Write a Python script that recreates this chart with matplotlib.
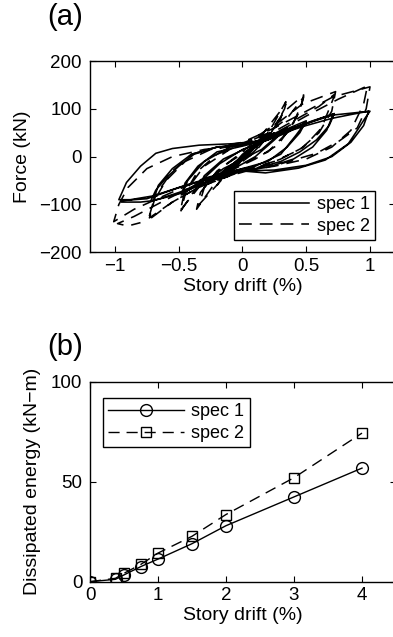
import matplotlib
matplotlib.use("Agg")
import matplotlib.pyplot as plt

plt.rcParams['font.family'] = ['Liberation Sans', 'DejaVu Sans']
plt.rcParams['font.size'] = 13.5

# ---------------- (a) hysteresis data (hand-read loops) ----------------
spec1_x = [0.0, 0.1, 0.05, -0.05, -0.1, -0.05, 0.05, 0.1,
           0.15, 0.08, -0.05, -0.15, -0.1, 0.0, 0.15,
           0.2, 0.12, 0.0, -0.12, -0.2, -0.15, -0.05, 0.08, 0.2,
           0.25, 0.18, 0.05, -0.1, -0.25, -0.2, -0.1, 0.05, 0.25,
           0.35, 0.28, 0.15, 0.0, -0.15, -0.35, -0.3, -0.18, 0.0, 0.15, 0.35,
           0.34, 0.25, 0.1, -0.1, -0.34, -0.3, -0.15, 0.05, 0.2, 0.34,
           0.5, 0.45, 0.35, 0.2, 0.0, -0.2, -0.35, -0.48, -0.45, -0.35, -0.2, 0.0, 0.2, 0.35, 0.5,
           0.49, 0.42, 0.3, 0.1, -0.1, -0.3, -0.47, -0.43, -0.3, -0.1, 0.1, 0.3, 0.49,
           0.72, 0.68, 0.58, 0.45, 0.3, 0.1, -0.1, -0.3, -0.5, -0.65, -0.72,
           -0.68, -0.6, -0.5, -0.38, -0.2, 0.0, 0.15, 0.35, 0.55, 0.72,
           0.71, 0.66, 0.55, 0.4, 0.2, 0.0, -0.25, -0.5, -0.7,
           -0.66, -0.55, -0.4, -0.2, 0.0, 0.2, 0.45, 0.71,
           1.0, 0.96, 0.9, 0.83, 0.65, 0.44, 0.18, 0.0, -0.2, -0.45, -0.7, -0.88, -0.97,
           -0.91, -0.8, -0.68, -0.55, -0.34, -0.08, 0.1, 0.3, 0.5, 0.7, 0.85, 0.99,
           0.95, 0.85, 0.7, 0.5, 0.25, 0.0, -0.25, -0.5, -0.75, -0.95,
           -0.95, -0.8, -0.7]
spec1_y = [0, 25, 10, -10, -30, -15, 5, 22,
           35, 20, -15, -40, -25, 5, 33,
           42, 25, 0, -30, -48, -35, -20, 15, 40,
           50, 35, 10, -20, -55, -40, -20, 10, 48,
           62, 45, 15, -5, -25, -65, -45, -15, 15, 30, 60,
           58, 35, 0, -30, -62, -40, -5, 20, 35, 57,
           75, 50, 20, -10, -25, -38, -55, -80, -55, -20, 10, 22, 35, 50, 72,
           70, 45, 5, -20, -32, -50, -78, -50, -10, 20, 30, 48, 68,
           90, 65, 35, 10, -10, -25, -35, -55, -75, -88, -93,
           -70, -45, -20, 5, 20, 25, 35, 55, 75, 90,
           88, 55, 20, -5, -22, -30, -50, -78, -92,
           -60, -25, 5, 20, 25, 38, 65, 87,
           95, 80, 55, 27, -7, -24, -34, -30, -40, -60, -82, -90, -90,
           -54, -20, 7, 17, 24, 27, 32, 48, 65, 80, 88, 95,
           65, 30, 0, -18, -28, -30, -45, -65, -88, -92,
           -95, -95, -92]

spec2_x = [0.0, 0.1, 0.05, -0.05, -0.1, -0.05, 0.05, 0.1,
           0.2, 0.12, 0.0, -0.12, -0.2, -0.15, -0.02, 0.1, 0.2,
           0.34, 0.3, 0.2, 0.05, -0.15, -0.36, -0.33, -0.2, 0.0, 0.15, 0.34,
           0.33, 0.25, 0.1, -0.1, -0.34, -0.3, -0.15, 0.05, 0.2, 0.33,
           0.48, 0.45, 0.35, 0.2, 0.0, -0.2, -0.35, -0.49, -0.46, -0.35, -0.2, 0.0, 0.2, 0.35, 0.48,
           0.47, 0.4, 0.28, 0.1, -0.1, -0.3, -0.48, -0.44, -0.3, -0.1, 0.1, 0.3, 0.47,
           0.73, 0.7, 0.6, 0.45, 0.25, 0.05, -0.15, -0.35, -0.55, -0.74,
           -0.7, -0.6, -0.45, -0.25, 0.0, 0.2, 0.4, 0.6, 0.72,
           0.71, 0.62, 0.48, 0.3, 0.1, -0.1, -0.35, -0.55, -0.73,
           -0.68, -0.55, -0.4, -0.2, 0.0, 0.25, 0.5, 0.71,
           1.0, 0.97, 0.9, 0.76, 0.58, 0.3, 0.0, -0.3, -0.6, -0.85, -1.01,
           -0.97, -0.9, -0.75, -0.55, -0.3, 0.0, 0.3, 0.5, 0.75, 0.98,
           0.95, 0.85, 0.7, 0.5, 0.25, 0.0, -0.3, -0.6, -0.85, -0.98, -0.9, -0.8]
spec2_y = [0, 30, 10, -15, -35, -20, 5, 28,
           50, 30, 0, -35, -60, -40, -15, 20, 48,
           115, 80, 40, 0, -30, -110, -75, -30, 10, 45, 110,
           100, 60, 10, -30, -100, -65, -20, 15, 45, 95,
           129, 95, 50, 10, -15, -35, -60, -116, -80, -30, 5, 25, 50, 80, 125,
           115, 70, 25, -5, -30, -50, -110, -70, -20, 15, 40, 75, 110,
           136, 95, 50, 15, -10, -25, -45, -65, -95, -133,
           -95, -50, -10, 15, 25, 45, 75, 105, 130,
           120, 60, 20, -5, -25, -40, -65, -95, -128,
           -80, -30, 5, 20, 30, 60, 95, 125,
           146, 100, 60, 33, 7, -15, -25, -45, -80, -110, -136,
           -100, -65, -25, 0, 15, 25, 55, 85, 120, 148,
           110, 55, 20, -5, -20, -30, -50, -90, -125, -140, -145, -138]

# ---------------- (b) dissipated energy ----------------
drift = [0, 0.375, 0.5, 0.75, 1, 1.5, 2, 3, 4]
energy_spec1 = [0, 1.2, 3.4, 7.6, 11.3, 19, 28, 42.4, 56.8]
energy_spec2 = [0, 1.7, 4.2, 8.7, 14.3, 22.7, 33.6, 52, 74.3]

W, H = 393, 637
fig = plt.figure(figsize=(W / 100, H / 100), dpi=100)
FS = 14

def style(ax):
    ax.tick_params(direction='in', top=True, right=True, length=4, width=0.8,
                   labelsize=13.5)
    ax.tick_params(axis='y', pad=5.5)
    ax.tick_params(axis='x', pad=4)
    for s in ax.spines.values():
        s.set_linewidth(1.0)

# panel (a)
ax1 = fig.add_axes([89.5 / W, 1 - 252.3 / H, 306 / W, 191.3 / H])
ax1.plot(spec1_x, spec1_y, color='black', lw=1.15, label='spec 1')
ax1.plot(spec2_x, spec2_y, color='black', lw=1.15, dashes=(8, 5), label='spec 2')
ax1.set_xlim(-1.2, 1.2)
ax1.set_ylim(-200, 200)
ax1.set_xticks([-1, -0.5, 0, 0.5, 1])
ax1.set_xticklabels(['−1', '−0.5', '0', '0.5', '1'])
ax1.set_yticks([-200, -100, 0, 100, 200])
ax1.set_xlabel('Story drift (%)', fontsize=FS, labelpad=2)
ax1.set_ylabel('Force (kN)', fontsize=FS, labelpad=6)
style(ax1)
leg1 = ax1.legend(loc='lower right', bbox_to_anchor=(0.933, 0.064), borderaxespad=0,
                  frameon=True, fancybox=False, edgecolor='black', framealpha=1,
                  fontsize=13, handlelength=3.9, borderpad=0.3, labelspacing=0.25,
                  handletextpad=0.4)
leg1.get_frame().set_linewidth(1.0)
fig.text(65 / W, 1 - 17 / H, '(a)', fontsize=21, ha='center', va='center')

# panel (b)
ax2 = fig.add_axes([90 / W, 1 - 581.7 / H, 306 / W, 200 / H])
ax2.plot(drift, energy_spec1, color='black', lw=1.0, marker='o', ms=8.5,
         mfc='none', mec='black', mew=1.0, label='spec 1')
ax2.plot(drift, energy_spec2, color='black', lw=1.0, dashes=(8, 5), marker='s', ms=7.5,
         mfc='none', mec='black', mew=1.0, label='spec 2')
ax2.set_xlim(0, 4.5)
ax2.set_ylim(0, 100)
ax2.set_xticks([0, 1, 2, 3, 4])
ax2.set_yticks([0, 50, 100])
ax2.set_xlabel('Story drift (%)', fontsize=FS, labelpad=2)
ax2.set_ylabel('Dissipated energy (kN−m)', fontsize=FS, labelpad=7)
style(ax2)
leg2 = ax2.legend(loc='upper left', bbox_to_anchor=(0.0425, 0.9185), borderaxespad=0,
                  frameon=True, fancybox=False, edgecolor='black', framealpha=1,
                  fontsize=13, handlelength=4.2, borderpad=0.3, labelspacing=0.25,
                  handletextpad=0.4)
leg2.get_frame().set_linewidth(1.0)
fig.text(65 / W, 1 - 347 / H, '(b)', fontsize=21, ha='center', va='center')

fig.savefig('out.png', dpi=100)
